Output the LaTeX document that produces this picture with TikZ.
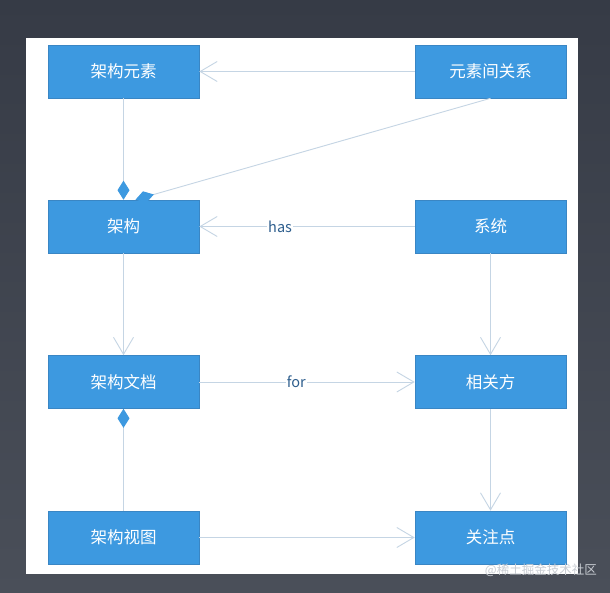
\documentclass[tikz,border=0pt]{standalone}
\usepackage{fontspec}
\setmainfont{Noto Sans CJK SC}
\usetikzlibrary{arrows.meta}
\definecolor{bgtop}{HTML}{363B46}
\definecolor{bgbot}{HTML}{4A4F59}
\definecolor{boxblue}{HTML}{3D99E0}
\definecolor{boxedge}{HTML}{3A86C4}
\definecolor{conn}{HTML}{C5D5E4}
\definecolor{lbl}{HTML}{2F5F8E}
\definecolor{wmark}{HTML}{C9CDD3}
\begin{document}
\begin{tikzpicture}[x=1pt,y=-1pt,
  box/.style={draw=boxedge,line width=0.6pt,fill=boxblue,minimum width=151pt,minimum height=53pt,
    inner sep=0pt,text=white,font=\fontsize{16.5}{18}\selectfont},
  link/.style={draw=conn,line width=0.9pt},
  openarrow/.style={link,-{Straight Barb[length=17pt,width=20pt,line width=0.9pt]}},
  diamondlink/.style={link,{Diamond[length=19pt,width=12pt,fill=boxblue,color=boxblue]}-},
  lab/.style={text=lbl,font=\fontsize{14.5}{16}\selectfont}]
\useasboundingbox (0,0) rectangle (610,593);
\shade[top color=bgtop,bottom color=bgbot] (0,0) rectangle (610,593);
\fill[white] (26,38) rectangle (578,574);

\node[box] (elem) at (123.5,71.5) {架构元素};
\node[box] (rel) at (490.5,71.5) {元素间关系};
\node[box] (arch) at (123.5,226.5) {架构};
\node[box] (sys) at (490.5,226.5) {系统};
\node[box] (doc) at (123.5,382) {架构文档};
\node[box] (stake) at (490.5,382) {相关方};
\node[box] (view) at (123.5,537.5) {架构视图};
\node[box] (concern) at (490.5,537.5) {关注点};

\draw[openarrow] (rel) -- (elem);
\draw[diamondlink] (arch.north) -- (elem.south);
\draw[diamondlink] ([xshift=12pt]arch.north) -- (rel.south);
\draw[openarrow] (sys) -- node[lab,pos=0.625,fill=white,inner sep=1pt] (haslab) {has} (arch);
\draw[openarrow] (arch) -- (doc);
\draw[openarrow] (sys) -- (stake);
\draw[openarrow] (doc) -- node[lab,pos=0.45,fill=white,inner sep=1pt] (forlab) {for} (stake);
\draw[diamondlink] (doc.south) -- (view.north);
\draw[openarrow] (stake) -- (concern);
\draw[openarrow] (view) -- (concern);

\node[text=wmark,font=\fontsize{12.5}{14}\selectfont,anchor=east,inner sep=0pt] (wm) at (597,570) {@稀土掘金技术社区};
\end{tikzpicture}
\end{document}
